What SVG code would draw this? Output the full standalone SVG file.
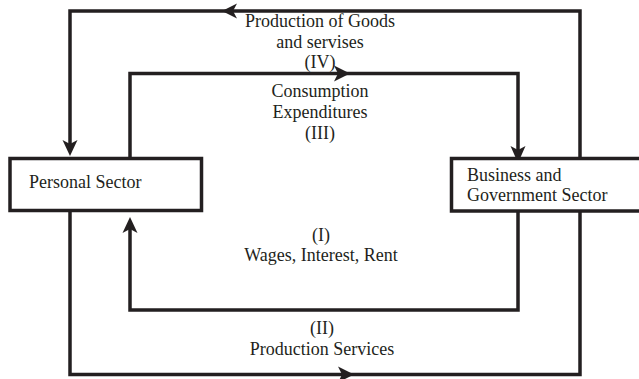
<svg xmlns="http://www.w3.org/2000/svg" width="639" height="379" viewBox="0 0 639 379">
<style>
.ln{fill:none;stroke:#231f20;stroke-width:3.5;stroke-linejoin:miter;stroke-linecap:square}
.ah{fill:#231f20;stroke:none}
.box{fill:#fff;stroke:#231f20;stroke-width:3.5}
text{font-family:"Liberation Serif","Times New Roman",serif;font-size:18px;fill:#231f20}
.c{text-anchor:middle}
</style>
<rect width="639" height="379" fill="#fff"/>
<g id="connectors">
<path class="ln" d="M580,157 V11 H70 V145"/>
<path class="ln" d="M130,157 V73.5 H518 V150"/>
<path class="ln" d="M518,212 V310 H130 V225"/>
<path class="ln" d="M70,212 V374.5 H580 V212"/>
<polygon class="ah" points="222,11 237,3.5 233,11 237,18.5"/>
<polygon class="ah" points="350,73.5 334,65.5 338,73.5 334,81.5"/>
<polygon class="ah" points="70,156 62.5,140 70,144 77.5,140"/>
<polygon class="ah" points="518,163 510.5,146 518,150 525.5,146"/>
<polygon class="ah" points="130,217 122.5,233 130,229 137.5,233"/>
<polygon class="ah" points="354,374.5 338,366.5 342,374.5 338,382.5"/>
</g>
<g id="personal">
<rect class="box" x="10" y="158.5" width="191.5" height="52"/>
<text x="29" y="188">Personal Sector</text>
</g>
<g id="business">
<rect class="box" x="451.5" y="158.5" width="200" height="52.5"/>
<text x="467" y="180.5">Business and</text>
<text x="467" y="200.5">Government Sector</text>
</g>
<g id="labels">
<text class="c" x="320" y="27">Production of Goods</text>
<text class="c" x="320" y="48">and servises</text>
<text class="c" x="320" y="68">(IV)</text>
<text class="c" x="320" y="97">Consumption</text>
<text class="c" x="320" y="118">Expenditures</text>
<text class="c" x="320" y="139">(III)</text>
<text class="c" x="321" y="241">(I)</text>
<text class="c" x="321" y="261">Wages, Interest, Rent</text>
<text class="c" x="322" y="334">(II)</text>
<text class="c" x="322" y="355">Production Services</text>
</g>
</svg>
